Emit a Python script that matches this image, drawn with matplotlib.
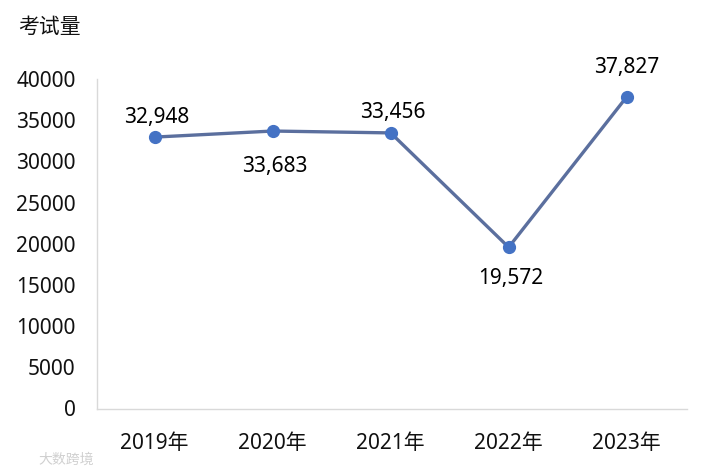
import matplotlib
matplotlib.use("Agg")
import matplotlib.pyplot as plt

plt.rcParams['font.family'] = ['Noto Sans', 'Noto Sans CJK SC', 'DejaVu Sans']

categories = ['2019年', '2020年', '2021年', '2022年', '2023年']
values = [32948, 33683, 33456, 19572, 37827]
labels = ['32,948', '33,683', '33,456', '19,572', '37,827']
offsets = [(1.4, 14), (1.4, -25.5), (1.4, 14.5), (1.4, -22.5), (0, 21.5)]
yticks = list(range(0, 40001, 5000))

W, H = 709, 474
fig = plt.figure(figsize=(W / 100, H / 100), dpi=100)
ax = fig.add_axes([96.5 / W, 1 - 408.5 / H, 590 / W, (408.5 - 79) / H])

ax.plot(range(5), values, color='#5B6F9E', lw=2.4, marker='o', ms=8.5,
        mfc='#4472C4', mec='#4472C4', clip_on=False)
ax.set_xlim(-0.493, 4.507)
ax.set_ylim(0, 40000)
ax.set_xticks(range(5), categories)
ax.set_yticks(yticks, [str(t) for t in yticks])
ax.tick_params(axis='both', length=0, labelsize=15, colors='#111111')
ax.tick_params(axis='x', pad=17.5)
ax.tick_params(axis='y', pad=15)
for s in ('top', 'right'):
    ax.spines[s].set_visible(False)
for s in ('left', 'bottom'):
    ax.spines[s].set_color('#D9D9D9')
    ax.spines[s].set_linewidth(1)

for x, (v, t, o) in enumerate(zip(values, labels, offsets)):
    ax.annotate(t, (x, v), xytext=o, textcoords='offset points', ha='center',
                va='center', fontsize=15, color='black')

fig.text(49.5 / W, 1 - 27 / H, '考试量', fontsize=15, ha='center', va='center', color='#111111')
fig.text(66 / W, 1 - 460 / H, '大数跨境', fontsize=10, ha='center', va='center', color='#D0D0D0')

fig.savefig('out.png', dpi=100)
